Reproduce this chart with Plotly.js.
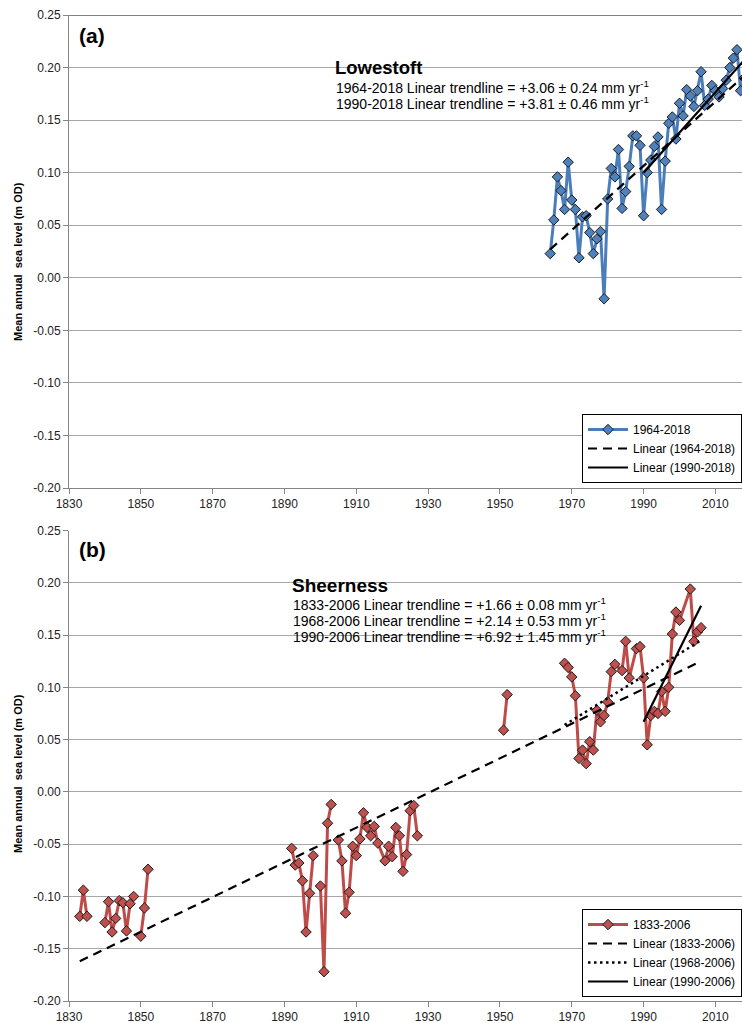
<!DOCTYPE html>
<html><head><meta charset="utf-8">
<script src="https://cdn.plot.ly/plotly-3.0.1.min.js"></script>
<style>html,body{margin:0;padding:0;background:#fff}#chart{width:742px;height:1023px}</style>
</head><body><div id="chart"></div>
<script>
// ---------- DATA ----------
const lowYears = [1964,1965,1966,1967,1968,1969,1970,1971,1972,1973,1974,1975,1976,1977,1978,1979,1980,1981,1982,1983,1984,1985,1986,1987,1988,1989,1990,1991,1992,1993,1994,1995,1996,1997,1998,1999,2000,2001,2002,2003,2004,2005,2006,2007,2008,2009,2010,2011,2012,2013,2014,2015,2016,2017,2018];
const lowValues = [0.023,0.055,0.096,0.083,0.065,0.110,0.074,0.065,0.019,0.058,0.059,0.043,0.023,0.037,0.044,-0.020,0.075,0.104,0.096,0.122,0.066,0.082,0.106,0.135,0.135,0.126,0.059,0.100,0.112,0.125,0.134,0.065,0.111,0.147,0.153,0.132,0.166,0.154,0.179,0.173,0.163,0.178,0.196,0.164,0.170,0.183,0.178,0.172,0.180,0.188,0.200,0.209,0.217,0.178,0.190];
const lowTrendAllYears = [1964, 2018];
const lowTrendAllValues = [0.027, 0.192];
const lowTrendRecentYears = [1990, 2018];
const lowTrendRecentValues = [0.100, 0.207];

const sheYears = [1833,1834,1835,1837,1840,1841,1842,1843,1844,1845,1846,1847,1848,1849,1850,1851,1852,1870,
  1892,1893,1894,1895,1896,1897,1898,1899,1900,1901,1902,1903,1904,1905,1906,1907,1908,1909,1910,1911,1912,1913,1914,1915,1916,1918,1919,1920,1921,1922,1923,1924,1925,1926,1927,1940,
  1951,1952,1960,
  1968,1969,1970,1971,1972,1973,1974,1975,1976,1977,1978,1979,1980,1981,1982,1984,1985,1986,1988,1989,1990,1991,1992,1993,1994,1995,1996,1997,1998,1999,2000,2003,2004,2005,2006];
const sheValues = [-0.119,-0.094,-0.119,null,-0.125,-0.105,-0.134,-0.121,-0.104,-0.106,-0.133,-0.107,-0.100,null,-0.138,-0.111,-0.074,null,
  -0.054,-0.070,-0.068,-0.085,-0.134,-0.097,-0.061,null,-0.090,-0.172,-0.030,-0.012,null,-0.046,-0.066,-0.116,-0.096,-0.052,-0.061,-0.045,-0.020,-0.034,-0.042,-0.033,-0.049,-0.066,-0.052,-0.062,-0.034,-0.042,-0.076,-0.060,-0.018,-0.013,-0.042,null,
  0.059,0.093,null,
  0.123,0.119,0.110,0.092,0.032,0.040,0.027,0.048,0.040,0.078,0.067,0.073,0.086,0.115,0.122,0.116,0.144,0.109,0.137,0.139,0.109,0.045,0.073,0.077,0.075,0.096,0.077,0.100,0.151,0.172,0.164,0.194,0.144,0.153,0.157];
const sheTrendAllYears = [1833, 2006];
const sheTrendAllValues = [-0.162, 0.125];
const sheTrend68Years = [1968, 2006];
const sheTrend68Values = [0.064, 0.145];
const sheTrend90Years = [1990, 2006];
const sheTrend90Values = [0.067, 0.178];

const xTickVals = [1830,1850,1870,1890,1910,1930,1950,1970,1990,2010];
const yTickVals = [-0.20,-0.15,-0.10,-0.05,0.00,0.05,0.10,0.15,0.20,0.25];
const yTickLabels = ["-0.20","-0.15","-0.10","-0.05","0.00","0.05","0.10","0.15","0.20","0.25"];

const lowName = "1964-2018";
const lowTrendAllName = "Linear (1964-2018)";
const lowTrendRecentName = "Linear (1990-2018)";
const sheName = "1833-2006";
const sheTrendAllName = "Linear (1833-2006)";
const sheTrend68Name = "Linear (1968-2006)";
const sheTrend90Name = "Linear (1990-2006)";

const yTitle = "Mean annual\u00a0 sea level (m OD)";
const lowTitle = "Lowestoft";
const lowLines = ["1964-2018 Linear trendline = +3.06 ± 0.24 mm yr<sup>-1</sup>",
                  "1990-2018 Linear trendline = +3.81 ± 0.46 mm yr<sup>-1</sup>"];
const sheTitle = "Sheerness";
const sheLines = ["1833-2006 Linear trendline = +1.66 ± 0.08 mm yr<sup>-1</sup>",
                  "1968-2006 Linear trendline = +2.14 ± 0.53 mm yr<sup>-1</sup>",
                  "1990-2006 Linear trendline = +6.92 ± 1.45 mm yr<sup>-1</sup>"];

// ---------- STYLE / LAYOUT ----------
const W = 742, H = 1023, ML = 69, MR = 0, MT = 15, MB = 22;
const PW = W - ML - MR, PH = H - MT - MB;
const px = x => (x - ML) / PW;
const py = y => (H - MB - y) / PH;
const FONT = "Liberation Sans, Arial, sans-serif";
const BLUE = "#4F81BD", RED = "#C0504D";

const traces = [
  {x: lowYears, y: lowValues, name: lowName, mode: "lines+markers", xaxis: "x", yaxis: "y", legend: "legend",
   line: {color: "#4A7EBB", width: 3}, marker: {symbol: "diamond", size: 8, color: BLUE, line: {color: "#1a1a1a", width: 1}}},
  {x: lowTrendAllYears, y: lowTrendAllValues, name: lowTrendAllName, mode: "lines", xaxis: "x", yaxis: "y", legend: "legend",
   line: {color: "#000", width: 2.2, dash: "9px,6px"}},
  {x: lowTrendRecentYears, y: lowTrendRecentValues, name: lowTrendRecentName, mode: "lines", xaxis: "x", yaxis: "y", legend: "legend",
   line: {color: "#000", width: 2.2}},
  {x: sheYears, y: sheValues, name: sheName, mode: "lines+markers", xaxis: "x2", yaxis: "y2", legend: "legend2", connectgaps: false,
   line: {color: "#BE4B48", width: 3}, marker: {symbol: "diamond", size: 8, color: RED, line: {color: "#1a1a1a", width: 1}}},
  {x: sheTrendAllYears, y: sheTrendAllValues, name: sheTrendAllName, mode: "lines", xaxis: "x2", yaxis: "y2", legend: "legend2",
   line: {color: "#000", width: 2.2, dash: "9px,6px"}},
  {x: sheTrend68Years, y: sheTrend68Values, name: sheTrend68Name, mode: "lines", xaxis: "x2", yaxis: "y2", legend: "legend2",
   line: {color: "#000", width: 2.5, dash: "2.5px,3.5px"}},
  {x: sheTrend90Years, y: sheTrend90Values, name: sheTrend90Name, mode: "lines", xaxis: "x2", yaxis: "y2", legend: "legend2",
   line: {color: "#000", width: 2.2}}
];

const xRange = [1830, 2017.4];
const xAxisBase = {range: xRange, tickvals: xTickVals, ticktext: xTickVals.map(String), showgrid: false, zeroline: false,
  showline: true, linecolor: "#868686", linewidth: 1, ticks: "outside", ticklen: 5, tickcolor: "#868686",
  tickfont: {family: FONT, size: 12, color: "#222"}, fixedrange: true};
const yAxisBase = {range: [-0.2, 0.25], tickvals: yTickVals, ticktext: yTickLabels, showgrid: true, gridcolor: "#a6a6a6", gridwidth: 1,
  zeroline: false, showline: true, linecolor: "#868686", linewidth: 1, ticks: "outside", ticklen: 5, tickcolor: "#868686",
  tickfont: {family: FONT, size: 12, color: "#222"}, fixedrange: true};

const topDomain = [py(488), 1];
const botDomain = [0, py(530.5)];

const ann = [];
function addText(text, x, y, size, bold, extra) {
  ann.push(Object.assign({text: bold ? "<b>" + text + "</b>" : text, xref: "paper", yref: "paper", x: px(x), y: py(y),
    xanchor: "left", yanchor: "middle", showarrow: false, font: {family: FONT, size: size, color: "#000"}}, extra || {}));
}
addText("(a)", 77, 36, 21, true);
addText("(b)", 77, 549, 21, true);
addText(lowTitle, 333, 68, 18.5, true);
lowLines.forEach((t, i) => addText(t, 334, 87 + i * 15.5, 14, false));
addText(sheTitle, 290, 585, 19, true);
sheLines.forEach((t, i) => addText(t, 291, 603.5 + i * 16, 14, false));
addText(yTitle, 18, 262, 11, true, {textangle: -90, xanchor: "center"});
addText(yTitle, 18, 774, 11, true, {textangle: -90, xanchor: "center"});

const legendBase = {x: 1, xanchor: "right", yanchor: "bottom", bgcolor: "#fff", bordercolor: "#000", borderwidth: 1,
  font: {family: FONT, size: 12, color: "#000"}, itemwidth: 40, tracegroupgap: 0};

const layout = {
  width: W, height: H, margin: {l: ML, r: MR, t: MT, b: MB, pad: 0},
  paper_bgcolor: "#fff", plot_bgcolor: "#fff", showlegend: true,
  font: {family: FONT, size: 12, color: "#000"},
  xaxis: Object.assign({}, xAxisBase, {anchor: "y"}),
  yaxis: Object.assign({}, yAxisBase, {domain: topDomain, anchor: "x"}),
  xaxis2: Object.assign({}, xAxisBase, {anchor: "y2"}),
  yaxis2: Object.assign({}, yAxisBase, {domain: botDomain, anchor: "x2"}),
  legend: Object.assign({}, legendBase, {y: py(483)}),
  legend2: Object.assign({}, legendBase, {y: py(997)}),
  annotations: ann,
  shapes: [{type: "line", xref: "x domain", yref: "y", x0: 0, x1: 1, y0: 0.25, y1: 0.25, line: {color: "#595959", width: 1.5}}]
};

Plotly.newPlot("chart", traces, layout, {staticPlot: true, displayModeBar: false});
</script></body></html>
